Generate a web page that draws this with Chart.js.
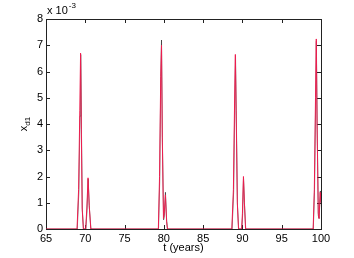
<!DOCTYPE html>
<html>
<head>
<meta charset="utf-8">
<script src="https://cdn.jsdelivr.net/npm/chart.js@4"></script>
<style>
  html, body { margin: 0; padding: 0; background: #fff; }
  canvas { display: block; }
</style>
</head>
<body>
<canvas id="chartXd1" width="354" height="258"></canvas>
<script>
// === Données (x_d1 en unités de 10^-3) ===
const tRed = [65, 68.95, 69.15, 69.3, 69.4, 69.5, 69.6, 69.75, 70.05, 70.2, 70.35, 70.5, 70.7,
  79.3, 79.45, 79.6, 79.7, 79.8, 79.95, 80.05, 80.2, 80.35, 80.45,
  88.65, 88.85, 89.0, 89.1, 89.2, 89.35, 89.5, 89.9, 90.0, 90.13, 90.25, 90.4,
  99.0, 99.15, 99.3, 99.4, 99.5, 99.65, 99.75, 99.9, 100];
const xRed = [0, 0, 1.5, 4.5, 6.7, 3.8, 0.8, 0, 0, 0.8, 1.95, 0.9, 0,
  0, 2.0, 5.8, 7.0, 3.5, 0.4, 0.6, 1.3, 0.3, 0,
  0, 1.5, 4.8, 6.65, 4.5, 1.0, 0, 0, 0.6, 2.0, 1.0, 0,
  0, 1.5, 5.0, 7.24, 4.0, 0.6, 0.4, 1.4, 1.0];

const tBlack = [65, 68.98, 69.18, 69.33, 69.42, 69.52, 69.63, 69.78, 70.07, 70.22, 70.37, 70.52, 70.72,
  79.32, 79.47, 79.62, 79.7, 79.82, 79.97, 80.07, 80.2, 80.36, 80.47,
  88.68, 88.88, 89.02, 89.12, 89.22, 89.37, 89.52, 89.92, 90.02, 90.14, 90.27, 90.42,
  99.02, 99.17, 99.32, 99.41, 99.52, 99.66, 99.76, 99.92, 100];
const xBlack = [0, 0, 1.4, 4.3, 6.65, 3.6, 0.7, 0, 0, 0.7, 1.9, 0.8, 0,
  0, 1.8, 5.9, 7.2, 3.3, 0.35, 0.5, 1.4, 0.3, 0,
  0, 1.4, 4.6, 6.6, 4.3, 0.9, 0, 0, 0.5, 1.95, 0.9, 0,
  0, 1.4, 4.8, 7.15, 3.8, 0.5, 0.4, 1.45, 1.0];

const xTicks = [65, 70, 75, 80, 85, 90, 95, 100];
const yTicks = [0, 1, 2, 3, 4, 5, 6, 7, 8];

const FONT = "'Liberation Sans', Arial, sans-serif";

function toPoints(ts, vs) {
  return ts.map((t, i) => ({ x: t, y: vs[i] }));
}

// Cadre + graduations vers l'intérieur (style MATLAB), sous les courbes
const boxPlugin = {
  id: 'boxPlugin',
  beforeDatasetsDraw(chart) {
    const { ctx, chartArea: a, scales } = chart;
    ctx.save();
    ctx.strokeStyle = '#222';
    ctx.lineWidth = 1;
    ctx.strokeRect(Math.round(a.left) + 0.5, Math.round(a.top) + 0.5,
      Math.round(a.right - a.left), Math.round(a.bottom - a.top));
    const len = 4;
    ctx.beginPath();
    xTicks.forEach(v => {
      const px = Math.round(scales.x.getPixelForValue(v)) + 0.5;
      ctx.moveTo(px, a.bottom); ctx.lineTo(px, a.bottom - len);
      ctx.moveTo(px, a.top); ctx.lineTo(px, a.top + len);
    });
    yTicks.forEach(v => {
      const py = Math.round(scales.y.getPixelForValue(v)) + 0.5;
      ctx.moveTo(a.left, py); ctx.lineTo(a.left + len, py);
      ctx.moveTo(a.right, py); ctx.lineTo(a.right - len, py);
    });
    ctx.stroke();
    ctx.restore();
  },
  afterDraw(chart) {
    const { ctx, chartArea: a } = chart;
    ctx.save();
    // Multiplicateur "x 10^-3"
    ctx.fillStyle = '#000';
    ctx.textBaseline = 'alphabetic';
    ctx.textAlign = 'left';
    ctx.font = '11px ' + FONT;
    ctx.fillText('x 10', a.left + 1, 14);
    const w = ctx.measureText('x 10').width;
    ctx.font = '8px ' + FONT;
    ctx.fillText('-3', a.left + 1 + w + 1, 8);

    // Titre des abscisses
    ctx.font = '11px ' + FONT;
    ctx.textAlign = 'center';
    ctx.fillText('t (years)', (a.left + a.right) / 2, 251);

    // Titre des ordonnées x_d1 (tourné)
    ctx.translate(27, (a.top + a.bottom) / 2);
    ctx.rotate(-Math.PI / 2);
    ctx.textAlign = 'left';
    ctx.font = '11px ' + FONT;
    const wx = ctx.measureText('x').width;
    ctx.font = '8px ' + FONT;
    const ws = ctx.measureText('d1').width;
    const x0 = -(wx + ws) / 2;
    ctx.font = '11px ' + FONT;
    ctx.fillText('x', x0, 0);
    ctx.font = '8px ' + FONT;
    ctx.fillText('d1', x0 + wx, 3);
    ctx.restore();
  }
};

new Chart(document.getElementById('chartXd1'), {
  type: 'line',
  data: {
    datasets: [
      {
        label: 'x_d1 (a)',
        data: toPoints(tBlack, xBlack),
        borderColor: '#000',
        borderWidth: 0.5,
        pointRadius: 0,
        tension: 0,
        fill: false,
        order: 2
      },
      {
        label: 'x_d1 (b)',
        data: toPoints(tRed, xRed),
        borderColor: '#ee1c4e',
        borderWidth: 1,
        pointRadius: 0,
        tension: 0,
        fill: false,
        order: 1
      }
    ]
  },
  options: {
    responsive: false,
    animation: false,
    devicePixelRatio: 1,
    layout: { padding: { top: 19, right: 33, left: 0, bottom: 0 } },
    plugins: { legend: { display: false }, tooltip: { enabled: false } },
    scales: {
      x: {
        type: 'linear',
        min: 65,
        max: 100,
        afterBuildTicks: s => { s.ticks = xTicks.map(v => ({ value: v })); },
        afterFit: s => { s.height = 29; },
        grid: { display: false, drawTicks: false },
        border: { display: false },
        ticks: { padding: 3, color: '#000', font: { family: FONT, size: 11 } }
      },
      y: {
        type: 'linear',
        min: 0,
        max: 8,
        afterBuildTicks: s => { s.ticks = yTicks.map(v => ({ value: v })); },
        afterFit: s => { s.width = 46; },
        grid: { display: false, drawTicks: false },
        border: { display: false },
        ticks: { padding: 3, color: '#000', font: { family: FONT, size: 11 } }
      }
    }
  },
  plugins: [boxPlugin]
});
</script>
</body>
</html>
